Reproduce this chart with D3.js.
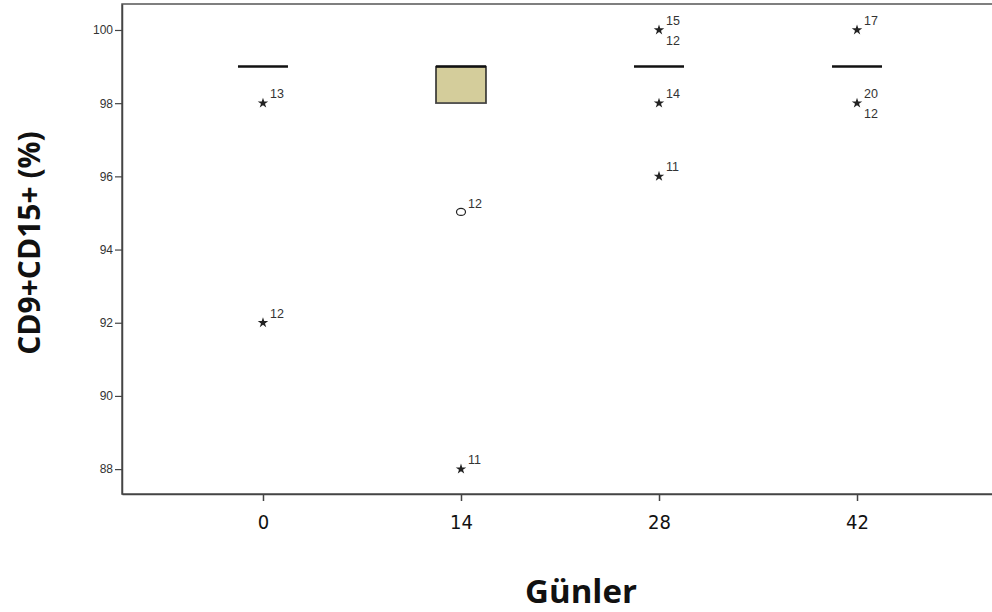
<!DOCTYPE html>
<html>
<head>
<meta charset="utf-8">
<script src="https://cdn.jsdelivr.net/npm/d3@7"></script>
<style>
  body { margin: 0; background: #fff; }
  svg { display: block; }
</style>
</head>
<body>
<div id="container"></div>
<script>
/* CONSTANTS AND GLOBALS */
const width = 992,
  height = 612,
  margin = { top: 4, bottom: 118, left: 122, right: -6 };

/* DATA */
const days = ["0", "14", "28", "42"];
const q1 = [99, 98, 99, 99];
const medians = [99, 98, 99, 99];
const q3 = [99, 99, 99, 99];
const yTicks = [88, 90, 92, 94, 96, 98, 100];

// outliers: day, value, marker type, labels (above / below)
const outDay = ["0", "0", "14", "14", "28", "28", "28", "42", "42"];
const outValue = [98, 92, 95, 88, 100, 98, 96, 100, 98];
const outType = ["star", "star", "circle", "star", "star", "star", "star", "star", "star"];
const outAbove = ["13", "12", "12", "11", "15", "14", "11", "17", "20"];
const outBelow = ["", "", "", "", "12", "", "", "", "12"];

const outliers = outDay.map((d, i) => ({
  day: d, value: outValue[i], type: outType[i], above: outAbove[i], below: outBelow[i]
}));

/* SCALES */
const xScale = d3.scalePoint()
  .domain(days)
  .range([margin.left, width - margin.right])
  .padding(0.712);

const yScale = d3.scaleLinear()
  .domain([87.32, 100.71])
  .range([height - margin.bottom, margin.top]);

const svg = d3.select("#container").append("svg")
  .attr("width", width)
  .attr("height", height);

// frame (top border + axes)
svg.append("rect")
  .attr("x", margin.left)
  .attr("y", margin.top)
  .attr("width", width - margin.right - margin.left)
  .attr("height", height - margin.bottom - margin.top)
  .attr("fill", "none")
  .attr("stroke", "#555")
  .attr("stroke-width", 1.5);

/* AXES */
const yAxis = d3.axisLeft(yScale).tickValues(yTicks).tickSize(7).tickSizeOuter(0).tickPadding(2);
const yAxisGroup = svg.append("g")
  .attr("transform", `translate(${margin.left},0)`)
  .call(yAxis);
yAxisGroup.select(".domain").attr("stroke", "#444").attr("stroke-width", 1.5);
yAxisGroup.selectAll(".tick line").attr("stroke", "#444").attr("stroke-width", 1.2);
yAxisGroup.selectAll(".tick text")
  .attr("font-family", "Arial, 'Liberation Sans', sans-serif")
  .attr("font-size", 12)
  .attr("fill", "#333");

const xAxis = d3.axisBottom(xScale).tickSize(7).tickSizeOuter(0).tickPadding(14);
const xAxisGroup = svg.append("g")
  .attr("transform", `translate(0,${height - margin.bottom})`)
  .call(xAxis);
xAxisGroup.select(".domain").attr("stroke", "#444").attr("stroke-width", 1.5);
xAxisGroup.selectAll(".tick line").attr("stroke", "#444").attr("stroke-width", 1.5);
xAxisGroup.selectAll(".tick text")
  .attr("font-family", "'DejaVu Sans Condensed', 'Open Sans', sans-serif")
  .attr("font-stretch", "condensed")
  .attr("font-size", 20)
  .attr("fill", "#111");

/* BOXES */
const boxW = 50;
const boxData = days.map((d, i) => ({ day: d, q1: q1[i], med: medians[i], q3: q3[i] }));

svg.selectAll(".box")
  .data(boxData.filter(d => d.q3 > d.q1))
  .join("rect")
  .attr("class", "box")
  .attr("x", d => xScale(d.day) - boxW / 2)
  .attr("y", d => yScale(d.q3))
  .attr("width", boxW)
  .attr("height", d => yScale(d.q1) - yScale(d.q3))
  .attr("fill", "#d4cd9b")
  .attr("stroke", "#222")
  .attr("stroke-width", 1.5);

svg.selectAll(".median")
  .data(boxData)
  .join("line")
  .attr("class", "median")
  .attr("x1", d => xScale(d.day) - boxW / 2)
  .attr("x2", d => xScale(d.day) + boxW / 2)
  .attr("y1", d => yScale(d.med))
  .attr("y2", d => yScale(d.med))
  .attr("stroke", d => d.q3 > d.q1 ? "#555" : "#111")
  .attr("stroke-width", d => d.q3 > d.q1 ? 1.5 : 2.5);

svg.selectAll(".box-top")
  .data(boxData.filter(d => d.q3 > d.q1))
  .join("line")
  .attr("class", "box-top")
  .attr("x1", d => xScale(d.day) - boxW / 2)
  .attr("x2", d => xScale(d.day) + boxW / 2)
  .attr("y1", d => yScale(d.q3))
  .attr("y2", d => yScale(d.q3))
  .attr("stroke", "#111")
  .attr("stroke-width", 2.5);

/* OUTLIERS */
const star = d3.symbol().type(d3.symbolStar).size(34);

svg.selectAll(".out-star")
  .data(outliers.filter(d => d.type === "star"))
  .join("path")
  .attr("class", "out-star")
  .attr("transform", d => `translate(${xScale(d.day)},${yScale(d.value)})`)
  .attr("d", star)
  .attr("fill", "#222");

svg.selectAll(".out-circle")
  .data(outliers.filter(d => d.type === "circle"))
  .join("ellipse")
  .attr("class", "out-circle")
  .attr("cx", d => xScale(d.day))
  .attr("cy", d => yScale(d.value) - 1)
  .attr("rx", 4.5)
  .attr("ry", 3.5)
  .attr("fill", "none")
  .attr("stroke", "#222")
  .attr("stroke-width", 1.2);

const labelFont = "Arial, 'Liberation Sans', sans-serif";
svg.selectAll(".lab-above")
  .data(outliers.filter(d => d.above))
  .join("text")
  .attr("class", "lab-above")
  .attr("x", d => xScale(d.day) + 7)
  .attr("y", d => yScale(d.value) - 5)
  .attr("font-family", labelFont)
  .attr("font-size", 12.5)
  .attr("fill", "#333")
  .text(d => d.above);

svg.selectAll(".lab-below")
  .data(outliers.filter(d => d.below))
  .join("text")
  .attr("class", "lab-below")
  .attr("x", d => xScale(d.day) + 7)
  .attr("y", d => yScale(d.value) + 15)
  .attr("font-family", labelFont)
  .attr("font-size", 12.5)
  .attr("fill", "#333")
  .text(d => d.below);

/* AXIS TITLES */
svg.append("text")
  .attr("x", 581)
  .attr("y", 603)
  .attr("text-anchor", "middle")
  .attr("font-family", "'Open Sans', 'Noto Sans', sans-serif")
  .attr("font-weight", "bold")
  .attr("font-size", 33)
  .attr("fill", "#111")
  .text("Günler");

svg.append("text")
  .attr("transform", "translate(40,243) rotate(-90)")
  .attr("text-anchor", "middle")
  .attr("font-family", "'Open Sans', 'Noto Sans', sans-serif")
  .attr("font-weight", "bold")
  .attr("font-size", 30)
  .attr("fill", "#111")
  .text("CD9+CD15+ (%)");
</script>
</body>
</html>
